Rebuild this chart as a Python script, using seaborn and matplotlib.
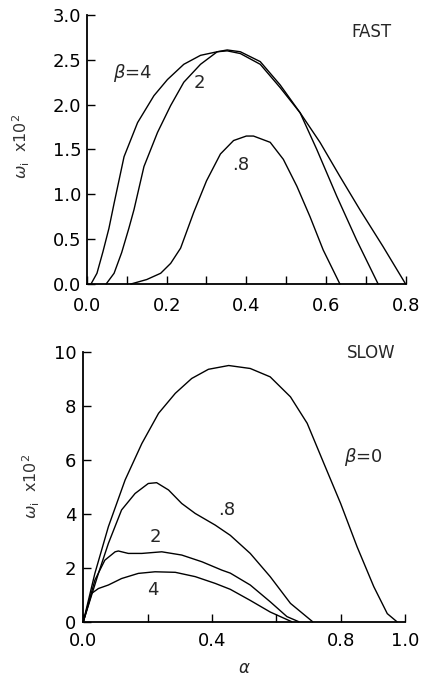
import matplotlib
matplotlib.use("Agg")
import matplotlib.pyplot as plt
from matplotlib.ticker import MultipleLocator, FormatStrFormatter, FixedLocator
import seaborn as sns

# ---- FAST mode: growth rate omega_i x 10^2 versus alpha ----
fast_b4_alpha = [0.01, 0.025, 0.04, 0.055, 0.068, 0.093, 0.127, 0.168, 0.202, 0.243,
                 0.285, 0.327, 0.352, 0.385, 0.435, 0.485, 0.535, 0.585, 0.635, 0.685,
                 0.743, 0.80]
fast_b4_omega = [0.0, 0.12, 0.36, 0.62, 0.90, 1.42, 1.80, 2.10, 2.28, 2.45,
                 2.55, 2.59, 2.60, 2.57, 2.45, 2.19, 1.91, 1.58, 1.20, 0.83,
                 0.42, 0.0]

fast_b2_alpha = [0.048, 0.068, 0.087, 0.105, 0.118, 0.143, 0.177, 0.21, 0.243, 0.285,
                 0.327, 0.352, 0.385, 0.435, 0.485, 0.535, 0.577, 0.627, 0.677, 0.731]
fast_b2_omega = [0.0, 0.12, 0.35, 0.62, 0.83, 1.31, 1.69, 1.99, 2.25, 2.45,
                 2.59, 2.61, 2.59, 2.48, 2.22, 1.91, 1.50, 0.98, 0.49, 0.0]

fast_b08_alpha = [0.11, 0.15, 0.185, 0.21, 0.235, 0.268, 0.30, 0.335, 0.368, 0.40,
                  0.418, 0.46, 0.493, 0.527, 0.56, 0.593, 0.635]
fast_b08_omega = [0.0, 0.05, 0.12, 0.23, 0.40, 0.80, 1.15, 1.45, 1.60, 1.65,
                  1.65, 1.58, 1.39, 1.09, 0.75, 0.38, 0.0]

# ---- SLOW mode ----
slow_b0_alpha = [0.0, 0.036, 0.078, 0.13, 0.182, 0.234, 0.286, 0.337, 0.389, 0.452,
                 0.519, 0.581, 0.644, 0.696, 0.748, 0.80, 0.851, 0.903, 0.945, 0.975]
slow_b0_omega = [0.0, 1.79, 3.52, 5.25, 6.60, 7.72, 8.46, 9.01, 9.35, 9.49,
                 9.38, 9.07, 8.33, 7.35, 5.86, 4.38, 2.78, 1.30, 0.30, 0.0]

slow_b08_alpha = [0.0, 0.047, 0.078, 0.119, 0.161, 0.202, 0.228, 0.265, 0.306, 0.348,
                  0.41, 0.457, 0.519, 0.581, 0.644, 0.713]
slow_b08_omega = [0.0, 1.79, 2.90, 4.14, 4.75, 5.12, 5.15, 4.88, 4.38, 4.01,
                  3.58, 3.20, 2.53, 1.67, 0.68, 0.0]

slow_b2_alpha = [0.0, 0.036, 0.067, 0.099, 0.109, 0.14, 0.182, 0.244, 0.306, 0.369,
                 0.431, 0.457, 0.519, 0.581, 0.633, 0.67]
slow_b2_omega = [0.0, 1.54, 2.28, 2.59, 2.62, 2.53, 2.53, 2.59, 2.47, 2.22,
                 1.91, 1.80, 1.36, 0.74, 0.19, 0.0]

slow_b4_alpha = [0.0, 0.026, 0.047, 0.078, 0.119, 0.171, 0.223, 0.286, 0.348, 0.41,
                 0.457, 0.519, 0.581, 0.648]
slow_b4_omega = [0.0, 1.05, 1.23, 1.36, 1.60, 1.79, 1.85, 1.83, 1.67, 1.42,
                 1.20, 0.79, 0.36, 0.0]

sns.set_theme(style="ticks")
plt.rcParams.update({
    "font.family": ["DejaVu Sans"],
    "mathtext.fontset": "dejavusans",
    "axes.linewidth": 1.3,
    "axes.edgecolor": "black",
    "xtick.color": "black",
    "ytick.color": "black",
})

fig = plt.figure(figsize=(4.28, 6.78), dpi=100)
ax1 = fig.add_axes([0.2033, 0.5811, 0.7444, 0.3968])
ax2 = fig.add_axes([0.1946, 0.0830, 0.7516, 0.3982])

line_kw = dict(color="black", linewidth=1.0, sort=False, estimator=None,
               clip_on=False)

for a, w in [(fast_b4_alpha, fast_b4_omega), (fast_b2_alpha, fast_b2_omega),
             (fast_b08_alpha, fast_b08_omega)]:
    sns.lineplot(x=a, y=w, ax=ax1, **line_kw)

for a, w in [(slow_b0_alpha, slow_b0_omega), (slow_b08_alpha, slow_b08_omega),
             (slow_b2_alpha, slow_b2_omega), (slow_b4_alpha, slow_b4_omega)]:
    sns.lineplot(x=a, y=w, ax=ax2, **line_kw)

for ax in (ax1, ax2):
    sns.despine(ax=ax)
    ax.set_facecolor("white")
    ax.tick_params(which="both", direction="in", length=6, width=1.0,
                   labelsize=13)
    ax.tick_params(axis="y", pad=4)

# top panel axes
ax1.set_xlim(0, 0.8)
ax1.set_ylim(0, 3.0)
ax1.xaxis.set_major_locator(MultipleLocator(0.2))
ax1.xaxis.set_minor_locator(MultipleLocator(0.1))
ax1.xaxis.set_major_formatter(FormatStrFormatter("%.1f"))
ax1.yaxis.set_major_locator(MultipleLocator(0.5))
ax1.yaxis.set_major_formatter(FormatStrFormatter("%.1f"))
ax1.tick_params(axis="x", pad=9)

# bottom panel axes
ax2.set_xlim(0, 1.0)
ax2.set_ylim(0, 10)
ax2.xaxis.set_major_locator(FixedLocator([0.0, 0.4, 0.8, 1.0]))
ax2.xaxis.set_minor_locator(FixedLocator([0.2, 0.6]))
ax2.xaxis.set_major_formatter(FormatStrFormatter("%.1f"))
ax2.yaxis.set_major_locator(MultipleLocator(2))
ax2.yaxis.set_major_formatter(FormatStrFormatter("%d"))
ax2.tick_params(axis="x", pad=7.5)
ax2.tick_params(axis="y", pad=5)

ylab = r"$\omega_{\rm i}$  x10$^2$"
ax1.text(-0.205, 0.51, ylab, transform=ax1.transAxes, rotation=90,
         ha="center", va="center", fontsize=11.5, color="#333333")
ax2.text(-0.162, 0.50, ylab, transform=ax2.transAxes, rotation=90,
         ha="center", va="center", fontsize=11.5, color="#333333")
ax2.text(0.5, -0.17, r"$\alpha$", transform=ax2.transAxes,
         ha="center", va="center", fontsize=12)

# curve annotations
ax1.text(0.065, 2.35, r"$\beta$=4", ha="left", va="center", fontsize=13)
ax1.text(0.283, 2.24, "2", ha="center", va="center", fontsize=13)
ax1.text(0.385, 1.33, ".8", ha="center", va="center", fontsize=13)
ax1.text(0.713, 2.81, "FAST", ha="center", va="center", fontsize=12)

ax2.text(0.871, 6.1, r"$\beta$=0", ha="center", va="center", fontsize=13)
ax2.text(0.445, 4.14, ".8", ha="center", va="center", fontsize=13)
ax2.text(0.223, 3.14, "2", ha="center", va="center", fontsize=13)
ax2.text(0.217, 1.17, "4", ha="center", va="center", fontsize=13)
ax2.text(0.896, 9.95, "SLOW", ha="center", va="center", fontsize=12)

fig.savefig("out.png", dpi=100, facecolor="white")
